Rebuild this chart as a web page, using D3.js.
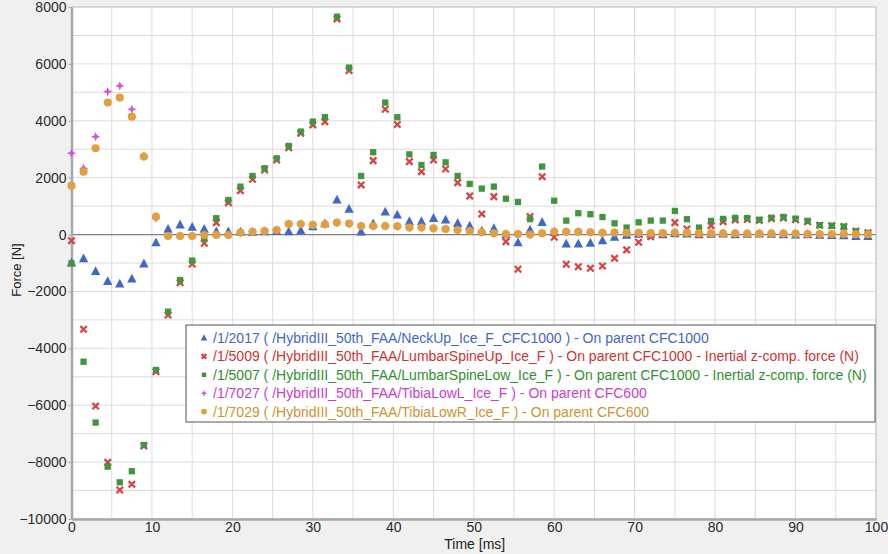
<!DOCTYPE html>
<html><head><meta charset="utf-8">
<script src="https://cdn.jsdelivr.net/npm/d3@7"></script>
<style>html,body{margin:0;padding:0;background:#f0f0f0;}svg{display:block;}</style>
</head><body>
<svg id="c" width="888" height="554"></svg>
<script>
const times = d3.range(67).map(i => +(i * 1.5).toFixed(1));
const neckUp = [-1000,-850,-1300,-1650,-1740,-1560,-1030,-285,185,340,255,185,100,100,90,80,100,110,100,135,280,380,1215,890,90,375,795,690,455,455,570,515,395,300,120,210,0,-285,160,430,80,-330,-330,-305,-215,-95,-20,10,20,0,30,20,0,10,20,0,10,20,10,0,-10,0,-20,-30,-40,-70,-70];
const lumbarUp = [-215,-3330,-6030,-8010,-8980,-8780,-7430,-4820,-2830,-1690,-1035,-305,420,1120,1545,1945,2270,2620,3050,3560,3855,3970,7580,5765,1745,2600,4405,3870,2565,2210,2620,2305,1825,1355,725,1335,-250,-1220,630,2035,-95,-1045,-1130,-1185,-1105,-835,-540,-270,-75,20,420,195,0,315,455,515,530,500,560,580,520,450,330,310,280,120,60];
const lumbarLow = [-1010,-4470,-6610,-8160,-8710,-8320,-7400,-4760,-2710,-1600,-915,-130,575,1215,1685,2060,2330,2680,3115,3620,3970,4125,7660,5870,2060,2895,4640,4125,2820,2445,2800,2540,2060,1780,1615,1685,1260,1145,540,2390,1190,490,750,715,615,395,245,430,490,490,830,540,245,480,550,585,580,520,590,620,560,480,330,310,280,120,60];
const tibiaL = [2860,2330,3440,5025,5225,4405,2765,575,-50,-50,-50,-15,-15,-15,70,100,125,160,370,370,340,360,420,385,300,300,300,290,245,245,220,195,160,125,80,45,20,20,0,45,100,100,100,80,65,70,60,60,50,50,70,60,40,40,40,40,30,30,40,40,30,20,20,20,20,10,10];
const tibiaR = [1720,2210,3035,4640,4815,4145,2740,630,-50,-50,-50,-15,-15,-15,70,100,125,160,370,370,340,360,420,385,300,300,300,290,245,245,220,195,160,125,80,45,20,20,0,45,100,100,100,80,65,70,60,60,50,50,70,60,40,40,40,40,30,30,40,40,30,20,20,20,20,10,10];
const seriesNames = [
  "/1/2017 ( /HybridIII_50th_FAA/NeckUp_Ice_F_CFC1000 ) - On parent CFC1000",
  "/1/5009 ( /HybridIII_50th_FAA/LumbarSpineUp_Ice_F ) - On parent CFC1000 - Inertial z-comp. force (N)",
  "/1/5007 ( /HybridIII_50th_FAA/LumbarSpineLow_Ice_F ) - On parent CFC1000 - Inertial z-comp. force (N)",
  "/1/7027 ( /HybridIII_50th_FAA/TibiaLowL_Ice_F ) - On parent CFC600",
  "/1/7029 ( /HybridIII_50th_FAA/TibiaLowR_Ice_F ) - On parent CFC600"
];
const xTicks = [0,10,20,30,40,50,60,70,80,90,100];
const yTicks = [-10000,-8000,-6000,-4000,-2000,0,2000,4000,6000,8000];

const series = [
  {name: seriesNames[0], values: neckUp, color: "#3f68c9", text: "#4466cc", shape: "tri"},
  {name: seriesNames[1], values: lumbarUp, color: "#d54545", text: "#cc3333", shape: "x"},
  {name: seriesNames[2], values: lumbarLow, color: "#3f963f", text: "#2f8f2f", shape: "sq"},
  {name: seriesNames[3], values: tibiaL, color: "#d455d4", text: "#c840c8", shape: "star"},
  {name: seriesNames[4], values: tibiaR, color: "#e0a040", text: "#cc9430", shape: "circ"}
];

const FONT = "Liberation Sans, Arial, sans-serif";
const svg = d3.select("#c");
const L = 71.5, R = 876, T = 7, B = 519;
const x = d3.scaleLinear().domain([0,100]).range([L,R]);
const y = d3.scaleLinear().domain([-10000,8000]).range([B,T]);

svg.append("rect").attr("x",L).attr("y",T).attr("width",R-L).attr("height",B-T).attr("fill","#fff");

// grid
const g = svg.append("g");
g.selectAll(".vg").data(d3.range(5,100,5)).enter().append("line")
  .attr("x1",d=>x(d)).attr("x2",d=>x(d)).attr("y1",T).attr("y2",B)
  .attr("stroke","#dcdcdc").attr("stroke-width",1);
g.selectAll(".hg").data(d3.range(-9000,8000,1000)).enter().append("line")
  .attr("x1",L).attr("x2",R).attr("y1",d=>y(d)).attr("y2",d=>y(d))
  .attr("stroke","#dcdcdc").attr("stroke-width",1);
g.append("line").attr("x1",L).attr("x2",R).attr("y1",y(0)).attr("y2",y(0)).attr("stroke","#808080").attr("stroke-width",1.2);

// frame
svg.append("rect").attr("x",L).attr("y",T).attr("width",R-L).attr("height",B-T).attr("fill","none").attr("stroke","#b8b8b8").attr("stroke-width",1);

// axes
const xAxis = d3.axisBottom(x).tickValues(xTicks).tickFormat(d3.format("d")).tickSize(0).tickSizeOuter(0).tickPadding(5);
const yAxis = d3.axisLeft(y).tickValues(yTicks).tickFormat(d3.format("d")).tickSize(3).tickSizeOuter(0).tickPadding(2);
const xa = svg.append("g").attr("transform",`translate(0,${B})`).call(xAxis);
const ya = svg.append("g").attr("transform",`translate(${L},0)`).call(yAxis);
[xa,ya].forEach(a=>{
  a.select(".domain").attr("stroke","#a8a8a8").attr("stroke-width",2.5);
  a.selectAll(".tick line").attr("stroke","#a8a8a8");
  a.selectAll("text").attr("font-family",FONT).attr("font-size",14).attr("fill","#2a2a2a");
});
xa.selectAll("text").attr("dy","0.55em");

svg.append("text").attr("x",(L+R)/2+1).attr("y",549).attr("text-anchor","middle")
  .attr("font-family",FONT).attr("font-size",14).attr("fill","#222").text("Time [ms]");
svg.append("text").attr("transform","translate(21,270) rotate(-90)").attr("text-anchor","middle")
  .attr("font-family",FONT).attr("font-size",13).attr("fill","#222").text("Force [N]");

function marker(sel, shape, color, s){
  if(shape==="tri"){
    sel.append("path").attr("d",`M0,${-s*0.62}L${s*0.55},${s*0.42}L${-s*0.55},${s*0.42}Z`).attr("fill",color);
  } else if(shape==="x"){
    const a = s*0.38;
    sel.append("path").attr("d",`M${-a},${-a}L${a},${a}M${a},${-a}L${-a},${a}`).attr("stroke",color).attr("stroke-width",2.3).attr("fill","none");
  } else if(shape==="sq"){
    sel.append("rect").attr("x",-s*0.37).attr("y",-s*0.37).attr("width",s*0.74).attr("height",s*0.74).attr("fill",color);
  } else if(shape==="star"){
    const a=s*0.55, b=s*0.16;
    sel.append("path").attr("d",`M0,${-a}L${b},${-b}L${a},0L${b},${b}L0,${a}L${-b},${b}L${-a},0L${-b},${-b}Z`).attr("fill",color);
  } else {
    sel.append("circle").attr("r",s*0.48).attr("fill",color);
  }
}

const plot = svg.append("g");
series.forEach(sr=>{
  const pts = plot.append("g").selectAll("g").data(sr.values.map((v,i)=>[times[i],v])).enter().append("g")
    .attr("transform",d=>`translate(${x(d[0])},${y(d[1])})`);
  pts.each(function(){ marker(d3.select(this), sr.shape, sr.color, 8.5); });
});

// legend
const lg = svg.append("g");
lg.append("rect").attr("x",186).attr("y",325).attr("width",689).attr("height",97).attr("fill","#fff").attr("stroke","#555").attr("stroke-width",1);
series.forEach((sr,i)=>{
  const yy = 338 + i*18.4;
  const m = lg.append("g").attr("transform",`translate(204,${yy})`);
  marker(m, sr.shape, sr.color, 6);
  lg.append("text").attr("x",213).attr("y",yy).attr("dy","0.35em")
    .attr("font-family",FONT).attr("font-size",14).attr("fill",sr.text).text(sr.name);
});
</script>
</body></html>
